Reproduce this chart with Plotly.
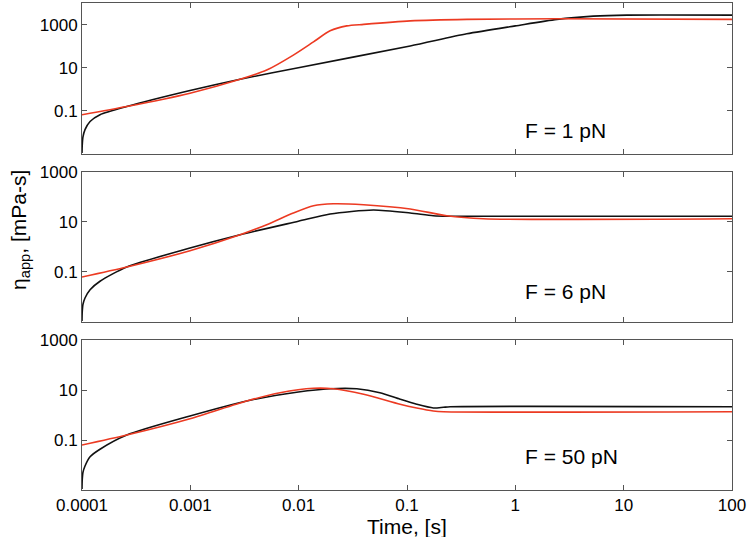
import plotly.graph_objects as go
from plotly.subplots import make_subplots

# ---- data (time in s, apparent viscosity in mPa-s) ----
t_p1_black = [1.0e-4, 1.005e-4, 1.02e-4, 1.066e-4, 1.187e-4, 1.466e-4, 2.59e-4, 9.93e-4, 2.88e-3,
              9.93e-3, 0.107, 0.356, 1.0, 2.42, 5.25, 10.7, 100]
eta_p1_black = [0.0011, 0.0025, 0.006, 0.0135, 0.032, 0.066, 0.158, 0.87, 2.92,
                10.0, 102, 372, 870, 1740, 2450, 2750, 2750]

t_p1_red = [1.0e-4, 2.59e-4, 9.93e-4, 2.88e-3, 5.07e-3, 8.93e-3, 1.37e-2, 1.95e-2, 2.78e-2,
            3.98e-2, 0.107, 0.356, 2.4, 100]
eta_p1_red = [0.066, 0.158, 0.66, 2.92, 7.8, 38.5, 158, 513, 871,
              1023, 1480, 1740, 1860, 1740]

t_p2_black = [1.0e-4, 1.005e-4, 1.02e-4, 1.066e-4, 1.187e-4, 1.466e-4, 2.59e-4, 9.93e-4, 2.88e-3,
              9.93e-3, 1.95e-2, 4.9e-2, 0.107, 0.175, 0.25, 100]
eta_p2_black = [0.0011, 0.0025, 0.005, 0.0091, 0.0195, 0.0427, 0.158, 0.91, 3.09,
                10.7, 20.9, 30.2, 22.9, 17.8, 17.0, 17.0]

t_p2_red = [1.0e-4, 2.59e-4, 9.93e-4, 2.88e-3, 5.07e-3, 8.93e-3, 1.37e-2, 2.09e-2, 3.98e-2,
            0.107, 0.233, 0.507, 100]
eta_p2_red = [0.063, 0.158, 0.71, 3.09, 7.8, 22.9, 44.7, 53.7, 49.0,
              33.1, 17.8, 13.5, 13.5]

t_p3_black = [1.0e-4, 1.005e-4, 1.02e-4, 1.066e-4, 1.187e-4, 1.466e-4, 2.59e-4, 9.93e-4, 3.31e-3,
              9.93e-3, 1.95e-2, 3.44e-2, 5.62e-2, 8.63e-2, 0.123, 0.175, 0.217, 0.25, 100]
eta_p3_black = [0.0011, 0.0025, 0.005, 0.0091, 0.0214, 0.0427, 0.158, 0.91, 3.63,
                8.3, 11.2, 11.2, 7.8, 4.27, 2.69, 1.91, 2.04, 2.14, 2.14]

t_p3_red = [1.0e-4, 2.59e-4, 9.93e-4, 3.31e-3, 6.73e-3, 1.37e-2, 2.09e-2, 3.98e-2, 8.63e-2,
            0.123, 0.175, 0.217, 100]
eta_p3_red = [0.063, 0.158, 0.71, 3.63, 7.8, 11.7, 11.2, 6.76, 2.69,
              1.91, 1.45, 1.35, 1.35]

x_tickvals = [1e-4, 1e-3, 1e-2, 1e-1, 1, 10, 100]
x_ticktext = ["0.0001", "0.001", "0.01", "0.1", "1", "10", "100"]
y_tickvals = [0.1, 10, 1000]
y_ticktext = ["0.1", "10", "1000"]
panel_labels = ["F = 1 pN", "F = 6 pN", "F = 50 pN"]

# ---- figure ----
FONT = "Liberation Sans, Arial, Helvetica, sans-serif"
RED = "#ec3a22"
BLACK = "#111111"
FRAME = "#555555"

fig = make_subplots(rows=3, cols=1, shared_xaxes=False, vertical_spacing=0.0)

series = [
    (t_p1_black, eta_p1_black, t_p1_red, eta_p1_red),
    (t_p2_black, eta_p2_black, t_p2_red, eta_p2_red),
    (t_p3_black, eta_p3_black, t_p3_red, eta_p3_red),
]
for i, (tb, eb, tr, er) in enumerate(series, start=1):
    fig.add_trace(go.Scatter(x=tb, y=eb, mode="lines",
                             line=dict(color=BLACK, width=1.6, shape="spline", smoothing=0.7),
                             showlegend=False, hoverinfo="skip"), row=i, col=1)
    fig.add_trace(go.Scatter(x=tr, y=er, mode="lines",
                             line=dict(color=RED, width=1.6, shape="spline", smoothing=0.7),
                             showlegend=False, hoverinfo="skip"), row=i, col=1)

# domains in paper fraction (plot area 487 px tall)
domains = [[0.690, 1.0], [0.345, 0.653], [0.0, 0.308]]
yranges = [[-3, 4], [-3, 3], [-3, 3]]
for i in range(3):
    xa = "xaxis" if i == 0 else f"xaxis{i+1}"
    ya = "yaxis" if i == 0 else f"yaxis{i+1}"
    xkw = dict(
        type="log", range=[-4, 2], tickvals=x_tickvals,
        showticklabels=(i == 2),
        ticks="inside", ticklen=5, tickcolor=FRAME, tickwidth=1,
        showline=True, linecolor=FRAME, linewidth=1, mirror="allticks",
        showgrid=False, zeroline=False, automargin=False,
        tickfont=dict(family=FONT, size=17, color="black"),
    )
    if i == 2:
        xkw["ticktext"] = x_ticktext
    fig.layout[xa].update(**xkw)
    fig.layout[ya].update(
        type="log", range=yranges[i], domain=domains[i],
        tickvals=y_tickvals, ticktext=y_ticktext,
        ticks="inside", ticklen=5, tickcolor=FRAME, tickwidth=1,
        showline=True, linecolor=FRAME, linewidth=1, mirror="allticks",
        showgrid=False, zeroline=False, automargin=False,
        tickfont=dict(family=FONT, size=17, color="black"),
    )

ann_y = [0.739, 0.4066, 0.0698]
for lab, yy in zip(panel_labels, ann_y):
    fig.add_annotation(text=lab, xref="paper", yref="paper", x=0.678, y=yy,
                       xanchor="left", yanchor="middle", showarrow=False,
                       font=dict(family=FONT, size=21, color="black"))

fig.add_annotation(text="Time, [s]", xref="paper", yref="paper", x=0.5, y=-0.074,
                   xanchor="center", yanchor="middle", showarrow=False,
                   font=dict(family=FONT, size=21, color="black"))
fig.add_annotation(text="η<sub>app</sub>, [mPa-s]", xref="paper", yref="paper",
                   x=-0.0954, y=0.534, xanchor="center", yanchor="middle",
                   textangle=-90, showarrow=False,
                   font=dict(family=FONT, size=21, color="black"))

fig.update_layout(width=750, height=537, margin=dict(l=82, r=18, t=3, b=47),
                  paper_bgcolor="white", plot_bgcolor="white")

fig.write_html("out.html", config={"displayModeBar": False},
               post_script="document.body.style.margin='0';document.body.style.padding='0';")
